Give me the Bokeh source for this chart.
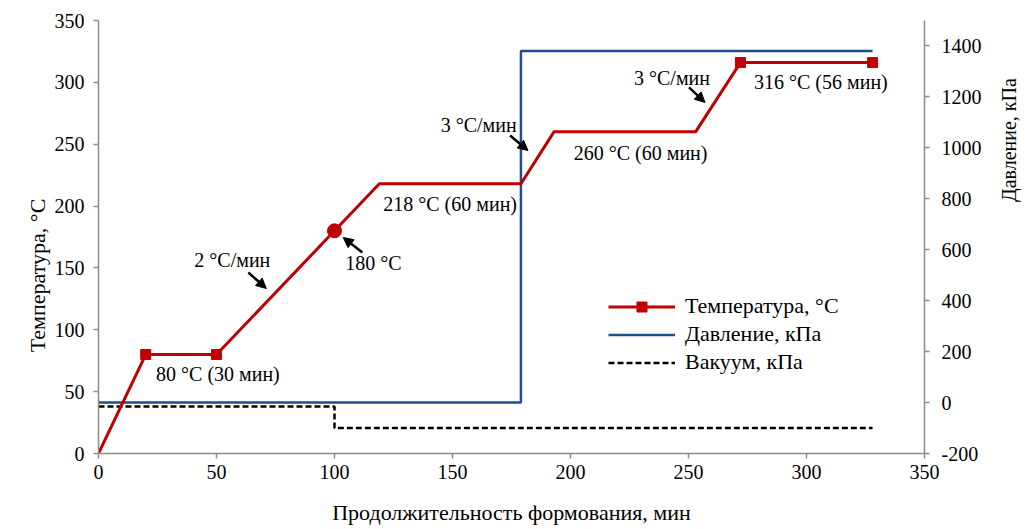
import math
from bokeh.plotting import figure
from bokeh.models import (Range1d, LinearAxis, FixedTicker, Legend, LegendItem,
                          Arrow, NormalHead, ColumnDataSource)
from bokeh.core.properties import value
from bokeh.embed import file_html
from bokeh.resources import INLINE

# ---- data ----
temp_x = [0, 20, 50, 119, 179, 193, 253, 272, 328]
temp_y = [0, 80, 80, 218, 218, 260, 260, 316, 316]
marker_idx = [1, 2, 7, 8]
point_x = [100]
point_y = [180]

press_x = [0, 179, 179, 328]
press_y = [0, 0, 1380, 1380]

vac_x = [0, 100, 100, 328]
vac_y = [-15, -15, -100, -100]

x_ticks = [0, 50, 100, 150, 200, 250, 300, 350]
t_ticks = [0, 50, 100, 150, 200, 250, 300, 350]
p_ticks = [-200, 0, 200, 400, 600, 800, 1000, 1200, 1400]

labels = ["80 °C (30 мин)", "2 °C/мин", "180 °C", "218 °C (60 мин)", "3 °C/мин",
          "260 °C (60 мин)", "3 °C/мин", "316 °C (56 мин)"]
label_x = [50.6, 56.7, 116.5, 149.0, 161.1, 229.7, 243.0, 306.1]
label_y = [63.9, 156.8, 154.0, 202.0, 265.2, 242.5, 303.2, 299.9]

arrows = [  # (x_start, y_start, x_end, y_end)
    (63.5, 146.3, 71.1, 133.4),
    (111.8, 162.5, 103.7, 174.6),
    (174.4, 257.1, 182.0, 244.9),
    (250.2, 295.9, 257.0, 283.8),
]

FONT = "Liberation Serif"
RED = "#C00000"
BLUE = "#1F4E8C"
AXIS = "#8C8C8C"
NB = "\u00a0"

p = figure(width=1033, height=529, output_backend="svg", toolbar_location=None,
           x_range=Range1d(0, 350), y_range=Range1d(0, 350),
           min_border_left=98, min_border_right=108, min_border_top=20,
           min_border_bottom=76)
p.extra_y_ranges = {"p": Range1d(-200, 1500)}
p.outline_line_color = None
p.xgrid.visible = False
p.ygrid.visible = False
p.background_fill_color = "white"

def style(ax, ticks):
    ax.ticker = FixedTicker(ticks=ticks)
    ax.axis_line_color = AXIS
    ax.axis_line_width = 1.5
    ax.major_tick_line_color = AXIS
    ax.major_tick_line_width = 1.5
    ax.major_tick_out = 5
    ax.major_tick_in = 0
    ax.minor_tick_line_color = None
    ax.major_label_text_font = FONT
    ax.major_label_text_font_size = "20px"
    ax.major_label_text_color = "black"
    ax.axis_label_text_font = FONT
    ax.axis_label_text_font_size = "22px"
    ax.axis_label_text_font_style = "normal"
    ax.axis_label_text_color = "black"

style(p.xaxis[0], x_ticks)
style(p.yaxis[0], t_ticks)
p.xaxis[0].axis_label = "Продолжительность формования, мин"
p.xaxis[0].axis_label_standoff = 18
p.xaxis[0].major_label_standoff = 6
p.yaxis[0].axis_label = "Температура, °С" + NB * 14
p.yaxis[0].major_label_standoff = 9
p.yaxis[0].axis_label_standoff = 2

ax_r = LinearAxis(y_range_name="p", axis_label=NB * 7 + "Давление, кПа")
style(ax_r, p_ticks)
ax_r.axis_label_text_font_size = "20px"
ax_r.major_label_standoff = 12
ax_r.axis_label_standoff = 24
ax_r.major_label_overrides = {-200: "-200"}
try:
    ax_r.axis_label_orientation = math.pi / 2
except Exception:
    pass
p.add_layout(ax_r, "right")

# series
vac_r = p.line(vac_x, vac_y, y_range_name="p", line_color="black", line_width=2.5,
               line_dash="6 3")
press_r = p.line(press_x, press_y, y_range_name="p", line_color=BLUE, line_width=2.5)
temp_r = p.line(temp_x, temp_y, line_color=RED, line_width=3)
sq_r = p.scatter([temp_x[i] for i in marker_idx], [temp_y[i] for i in marker_idx],
                 marker="square", size=10, fill_color=RED, line_color=RED)
p.scatter(point_x, point_y, marker="circle", size=14, fill_color=RED, line_color=RED)

# annotations
src = ColumnDataSource(dict(x=label_x, y=label_y, t=labels))
p.text(x="x", y="y", text="t", source=src, text_font=value(FONT),
       text_font_size="20px", text_align="center", text_baseline="middle",
       text_color="black")
for (xs, ys, xe, ye) in arrows:
    p.add_layout(Arrow(end=NormalHead(size=10, fill_color="black", line_color="black"),
                       x_start=xs, y_start=ys, x_end=xe, y_end=ye,
                       line_color="black", line_width=2.5))

legend = Legend(items=[
    LegendItem(label="Температура, °С", renderers=[temp_r, sq_r]),
    LegendItem(label="Давление, кПа", renderers=[press_r]),
    LegendItem(label="Вакуум, кПа", renderers=[vac_r]),
], location=(510, 78))
legend.label_text_font = FONT
legend.label_text_font_size = "22px"
legend.label_text_color = "black"
legend.glyph_width = 67
legend.glyph_height = 25
legend.label_height = 25
legend.label_standoff = 10
legend.spacing = 2
legend.padding = 5
legend.border_line_color = None
legend.background_fill_alpha = 0
p.add_layout(legend)

open("out.html", "w").write(file_html(p, INLINE))
